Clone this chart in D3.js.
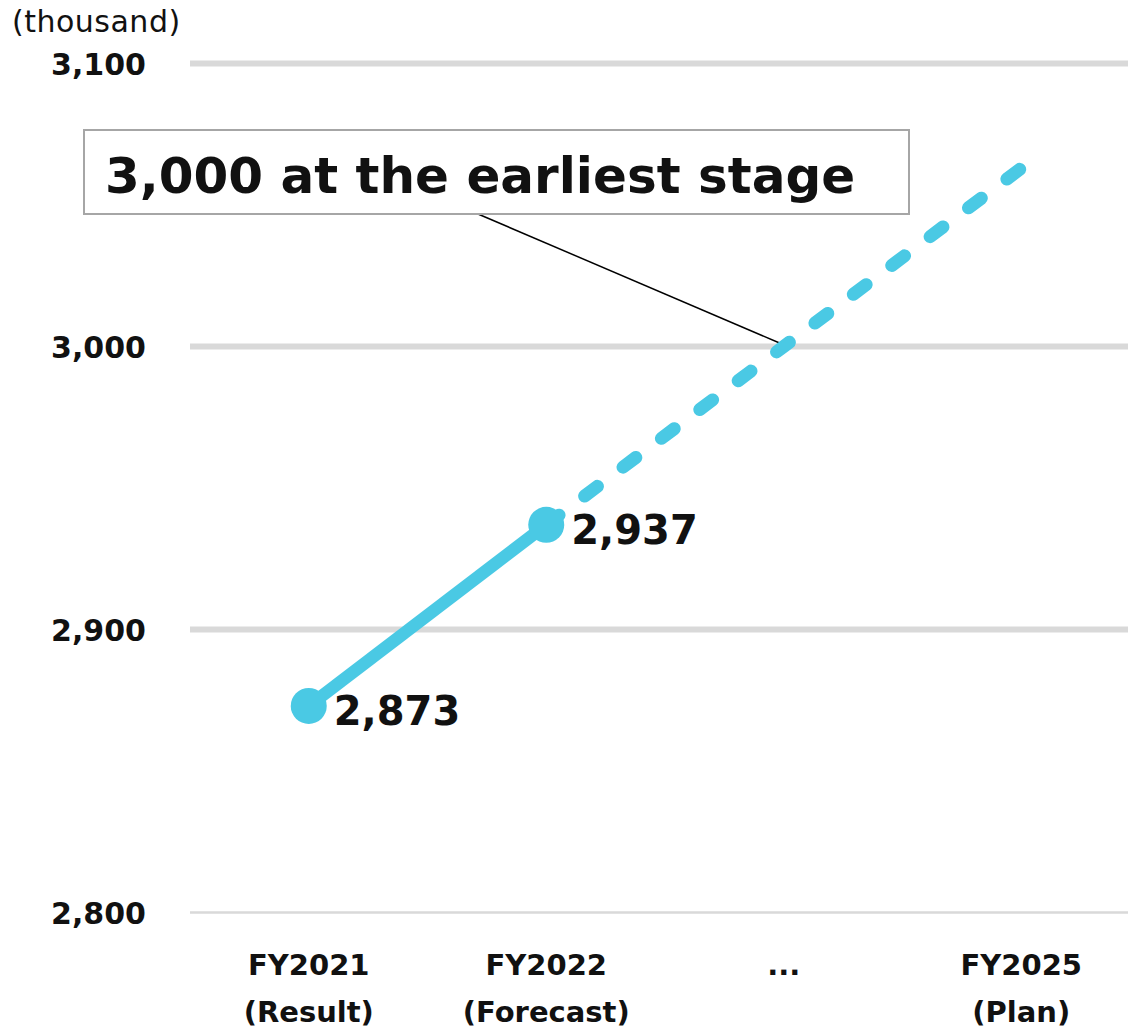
<!DOCTYPE html>
<html>
<head>
<meta charset="utf-8">
<script src="https://cdn.jsdelivr.net/npm/d3@7"></script>
<style>
  html, body { margin: 0; padding: 0; background: #fff; }
  svg { display: block; font-family: "DejaVu Sans", Verdana, sans-serif; }
</style>
</head>
<body>
<svg id="chart" width="1128" height="1031"></svg>
<script>
// Categories (two-line labels) and the series values, in thousands
const categories = ["FY2021", "FY2022", "...", "FY2025"];
const categorySubLabels = ["(Result)", "(Forecast)", "", "(Plan)"];
const actualValues = [2873, 2937, null, null];      // solid line with markers
const planValues = [null, 2937, 3000, 3063];        // dashed path to the target
const yTicks = [2800, 2900, 3000, 3100];
const unitLabel = "(thousand)";
const calloutText = "3,000 at the earliest stage";
const calloutCategory = "...";
const calloutValue = 3000;

const svg = d3.select("#chart");
const lineColor = "#4AC9E4";

const x = d3.scalePoint().domain(categories).range([190, 1140]).padding(0.5);
const y = d3.scaleLinear().domain([2800, 3100]).range([912.5, 63.5]);

// Y tick labels
const yAxis = d3.axisLeft(y).tickValues(yTicks).tickSize(0).tickFormat(d3.format(","));
const gy = svg.append("g").attr("transform", "translate(146,0)").call(yAxis);
gy.select(".domain").remove();
gy.selectAll("text")
  .attr("x", 0)
  .attr("dy", "0.36em")
  .attr("text-anchor", "end")
  .style("font-family", "'DejaVu Sans', sans-serif")
  .style("font-size", "30px")
  .style("font-weight", "bold")
  .style("fill", "#111");

// Horizontal gridlines (baseline thinner)
svg.append("g").selectAll("line")
  .data(yTicks)
  .join("line")
  .attr("x1", 190)
  .attr("x2", 1128)
  .attr("y1", d => y(d))
  .attr("y2", d => y(d))
  .attr("stroke", "#D9D9D9")
  .attr("stroke-width", d => d === 2800 ? 2.5 : 6);

// Unit label
svg.append("text")
  .attr("x", 12)
  .attr("y", 32)
  .style("font-size", "30px")
  .style("letter-spacing", "0.5px")
  .style("fill", "#111")
  .text(unitLabel);

// Category axis labels
const gx = svg.append("g");
categories.forEach((c, i) => {
  const t = gx.append("text")
    .attr("x", x(c))
    .attr("y", 975)
    .attr("text-anchor", "middle")
    .style("font-size", "29px")
    .style("font-weight", "bold")
    .style("fill", "#111");
  t.append("tspan").attr("x", x(c)).text(c);
  if (categorySubLabels[i]) {
    t.append("tspan").attr("x", x(c)).attr("dy", 47).text(categorySubLabels[i]);
  }
});

// Callout: leader to the target point
const box = { x: 84, y: 130, w: 825, h: 84 };
svg.append("line")
  .attr("x1", 478)
  .attr("y1", box.y + box.h)
  .attr("x2", x(calloutCategory) - 3)
  .attr("y2", y(calloutValue) - 3)
  .attr("stroke", "#000")
  .attr("stroke-width", 1.5);

// Dashed plan line
const planData = categories.map((c, i) => ({ c, v: planValues[i] })).filter(d => d.v != null);
const lineGen = d3.line().x(d => x(d.c)).y(d => y(d.v));
svg.append("path")
  .datum(planData)
  .attr("d", lineGen)
  .attr("fill", "none")
  .attr("stroke", lineColor)
  .attr("stroke-width", 13)
  .attr("stroke-linecap", "round")
  .attr("stroke-dasharray", "16 32");

// Solid actual line with markers
const actualData = categories.map((c, i) => ({ c, v: actualValues[i] })).filter(d => d.v != null);
svg.append("path")
  .datum(actualData)
  .attr("d", lineGen)
  .attr("fill", "none")
  .attr("stroke", lineColor)
  .attr("stroke-width", 12.5);

svg.append("g").selectAll("circle")
  .data(actualData)
  .join("circle")
  .attr("cx", d => x(d.c))
  .attr("cy", d => y(d.v))
  .attr("r", 18)
  .attr("fill", lineColor);

// Value labels
svg.append("g").selectAll("text")
  .data(actualData)
  .join("text")
  .attr("x", d => x(d.c) + 25)
  .attr("y", d => y(d.v) + 19)
  .style("font-size", "40px")
  .style("font-weight", "bold")
  .style("fill", "#111")
  .text(d => d3.format(",")(d.v));

// Callout box and text
svg.append("rect")
  .attr("x", box.x)
  .attr("y", box.y)
  .attr("width", box.w)
  .attr("height", box.h)
  .attr("fill", "#fff")
  .attr("stroke", "#A6A6A6")
  .attr("stroke-width", 2);

svg.append("text")
  .attr("x", 105)
  .attr("y", 193)
  .style("font-size", "50px")
  .style("font-weight", "bold")
  .style("fill", "#111")
  .text(calloutText);
</script>
</body>
</html>
